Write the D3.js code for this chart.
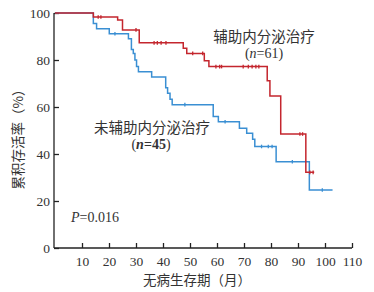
<!DOCTYPE html>
<html><head><meta charset="utf-8">
<script src="https://cdn.jsdelivr.net/npm/d3@7"></script>
<style>
html,body{margin:0;padding:0;background:#fff;}
svg{display:block;}
.tick text{font-family:"Liberation Serif","DejaVu Serif",serif;font-size:13.5px;fill:#333;}
</style></head>
<body>
<svg id="c" width="374" height="292"></svg>
<script>
// ---- data ----
const xTicks = [10,20,30,40,50,60,70,80,90,100,110];
const yTicks = [0,20,40,60,80,100];

const treatedTimes = [0,14.2,23.2,25,31.2,47.5,48.8,55.3,57,78.6,79.6,83.6,92.9];
const treatedSurv  = [100,98.3,97,92.8,87.3,85,82.8,79.7,77.2,71.2,64.7,48.5,32.2];
const treatedEnd = 96;
const treatedCensor = [16,17,30,36.7,37.9,39.3,41.1,51,54.7,59.6,61,61.7,69.7,71.6,73,74.4,75.5,90.7,91.7,94.4,95.6];

const untreatedTimes = [0,14.2,15.4,20.1,27.2,28.3,29,29.6,30.2,30.9,35.8,41,41.7,42.6,43.4,58.6,60.5,68.3,71,73.2,74,81.9,94.2];
const untreatedSurv  = [100,95.5,93.3,91.2,89,84.5,82.8,80,77.2,75,72.8,68.2,65.8,63.3,61,56,53.7,51,48.8,46.3,43.2,36.7,24.7];
const untreatedEnd = 102.8;
const untreatedCensor = [22.2,48.1,63,76.5,79,80.4,87.9,99];

const labelTreated = "辅助内分泌治疗";
const nTreated = "61";
const labelUntreated = "未辅助内分泌治疗";
const nUntreated = "45";
const pText = "0.016";
const xTitle = "无病生存期（月）";
const yTitle = "累积存活率（%）";

// ---- chart ----
const svg = d3.select("#c");
const x = d3.scaleLinear().domain([0,110]).range([55,352]);
const y = d3.scaleLinear().domain([0,100]).range([248,13]);
const red = "#c4262e", blue = "#3a8fd3";

const yAxis = svg.append("g").attr("transform","translate(54,0)")
  .call(d3.axisLeft(y).tickValues(yTicks).tickSizeInner(-5).tickSizeOuter(0).tickPadding(4));
const xAxis = svg.append("g").attr("transform","translate(0,248)")
  .call(d3.axisBottom(x).tickValues(xTicks).tickSizeInner(-5).tickSizeOuter(0).tickPadding(8));
[yAxis,xAxis].forEach(a=>{a.selectAll("path,line").attr("stroke","#222").attr("stroke-width",1.3);});
xAxis.select(".domain").attr("d",`M54,0H${x(110)}`);
yAxis.select(".domain").attr("d",`M0,${y(0)}V${y(100)}`);

function curve(times, surv, end, censor, color){
  const pts = times.map((t,i)=>[t,surv[i]]);
  pts.push([end, surv[surv.length-1]]);
  const line = d3.line().x(d=>x(d[0])).y(d=>y(d[1])).curve(d3.curveStepAfter);
  svg.append("path").attr("d",line(pts)).attr("fill","none").attr("stroke",color).attr("stroke-width",1.5);
  const survAt = t => { let v=100; times.forEach((tt,i)=>{ if(tt<=t) v=surv[i]; }); return v; };
  svg.append("g").selectAll("line").data(censor).join("line")
    .attr("x1",d=>x(d)).attr("x2",d=>x(d))
    .attr("y1",d=>y(survAt(d))-1.8).attr("y2",d=>y(survAt(d))+1.8)
    .attr("stroke",color).attr("stroke-width",1.3);
}
curve(untreatedTimes, untreatedSurv, untreatedEnd, untreatedCensor, blue);
curve(treatedTimes, treatedSurv, treatedEnd, treatedCensor, red);

const cjk = '"Noto Sans CJK SC","Noto Sans CJK JP",sans-serif';
const serif = '"Liberation Serif","DejaVu Serif",serif';

svg.append("text").attr("x",264).attr("y",42).attr("text-anchor","middle")
  .style("font-family",cjk).style("font-size","14.5px").attr("fill","#333").text(labelTreated);
const t1 = svg.append("text").attr("x",264).attr("y",58).attr("text-anchor","middle")
  .style("font-family",serif).style("font-size","14px").attr("fill","#333");
t1.append("tspan").text("(");
t1.append("tspan").style("font-style","italic").text("n");
t1.append("tspan").text("="+nTreated+")");

svg.append("text").attr("x",152).attr("y",133).attr("text-anchor","middle")
  .style("font-family",cjk).style("font-size","14.5px").attr("fill","#333").text(labelUntreated);
const t2 = svg.append("text").attr("x",151).attr("y",149).attr("text-anchor","middle")
  .style("font-family",serif).style("font-size","14px").attr("fill","#333");
t2.append("tspan").text("(");
t2.append("tspan").style("font-style","italic").style("font-weight","bold").text("n");
t2.append("tspan").style("font-weight","bold").text("="+nUntreated);
t2.append("tspan").text(")");

const p = svg.append("text").attr("x",71).attr("y",222)
  .style("font-family",serif).style("font-size","14px").attr("fill","#333");
p.append("tspan").style("font-style","italic").text("P");
p.append("tspan").text("="+pText);

svg.append("text").attr("x",197).attr("y",285).attr("text-anchor","middle")
  .style("font-family",cjk).style("font-size","13.5px").attr("fill","#333").text(xTitle);
svg.append("text").attr("transform","translate(23,136) rotate(-90)").attr("text-anchor","middle")
  .style("font-family",cjk).style("font-size","13.5px").attr("fill","#333").text(yTitle);
</script>
</body></html>
